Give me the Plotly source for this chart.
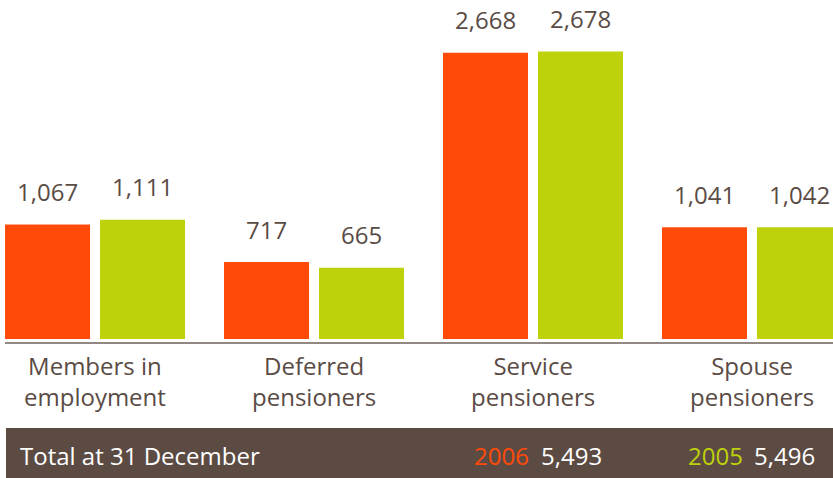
import plotly.graph_objects as go

categories = ["Members in<br>employment", "Deferred<br>pensioners", "Service<br>pensioners", "Spouse<br>pensioners"]
values_2006 = [1067, 717, 2668, 1041]
values_2005 = [1111, 665, 2678, 1042]
series_names = ["2006", "2005"]
total_label = "Total at 31 December"
totals = [5493, 5496]

ORANGE = "#FF4A0A"
GREEN = "#BDD20A"
BROWN = "#5C4B43"
TEXT = "#5A4B45"
FONT = "Open Sans"
FS = 24

fig = go.Figure()
fig.add_trace(go.Bar(x=categories, y=values_2006, name=series_names[0], marker_color=ORANGE, marker_line_width=0))
fig.add_trace(go.Bar(x=categories, y=values_2005, name=series_names[1], marker_color=GREEN, marker_line_width=0))

annotations = []
for vals, shift in ((values_2006, -47.5), (values_2005, 47.5)):
    for c, v in zip(categories, vals):
        annotations.append(dict(x=c, y=v, xref="x", yref="y", text=f"{v:,}", showarrow=False,
                                xshift=shift, yshift=33, yanchor="middle",
                                font=dict(family=FONT, size=FS, color=TEXT)))
for c in categories:
    annotations.append(dict(x=c, y=0, xref="x", yref="y", text=c, showarrow=False,
                            yshift=-8, yanchor="top", align="center",
                            font=dict(family=FONT, size=FS, color=TEXT)))

H = 478
W = 833
def py(pix):
    return (H - pix) / H
def px(pix):
    return pix / W

annotations.append(dict(x=px(18), y=py(455), xref="paper", yref="paper", text=total_label, showarrow=False,
                        xanchor="left", yanchor="middle", font=dict(family=FONT, size=FS, color="white")))
for name, tot, col, xl, xv in ((series_names[0], totals[0], ORANGE, 472, 539), (series_names[1], totals[1], GREEN, 686, 752)):
    annotations.append(dict(x=px(xl), y=py(455), xref="paper", yref="paper", text=name, showarrow=False,
                            xanchor="left", yanchor="middle", font=dict(family=FONT, size=FS, color=col)))
    annotations.append(dict(x=px(xv), y=py(455), xref="paper", yref="paper", text=f"{tot:,}", showarrow=False,
                            xanchor="left", yanchor="middle", font=dict(family=FONT, size=FS, color="white")))

shapes = [
    dict(type="rect", xref="paper", yref="paper", x0=px(6), x1=1, y0=0, y1=py(428),
         fillcolor=BROWN, line_width=0, layer="below"),
    dict(type="line", xref="paper", yref="y", x0=px(5), x1=1, y0=-37, y1=-37,
         line=dict(color="#6E605A", width=1.5)),
]

fig.update_layout(
    width=W, height=H,
    margin=dict(l=0, r=0, t=0, b=0),
    paper_bgcolor="white", plot_bgcolor="white",
    barmode="group", bargap=0.1324, bargroupgap=0.105,
    showlegend=False,
    xaxis=dict(range=[-0.434, 3.370], showticklabels=False, showgrid=False, zeroline=False, showline=False),
    yaxis=dict(range=[-1295, 3159], showticklabels=False, showgrid=False, zeroline=False, showline=False),
    annotations=annotations,
    shapes=shapes,
)

fig.write_html("out.html")
